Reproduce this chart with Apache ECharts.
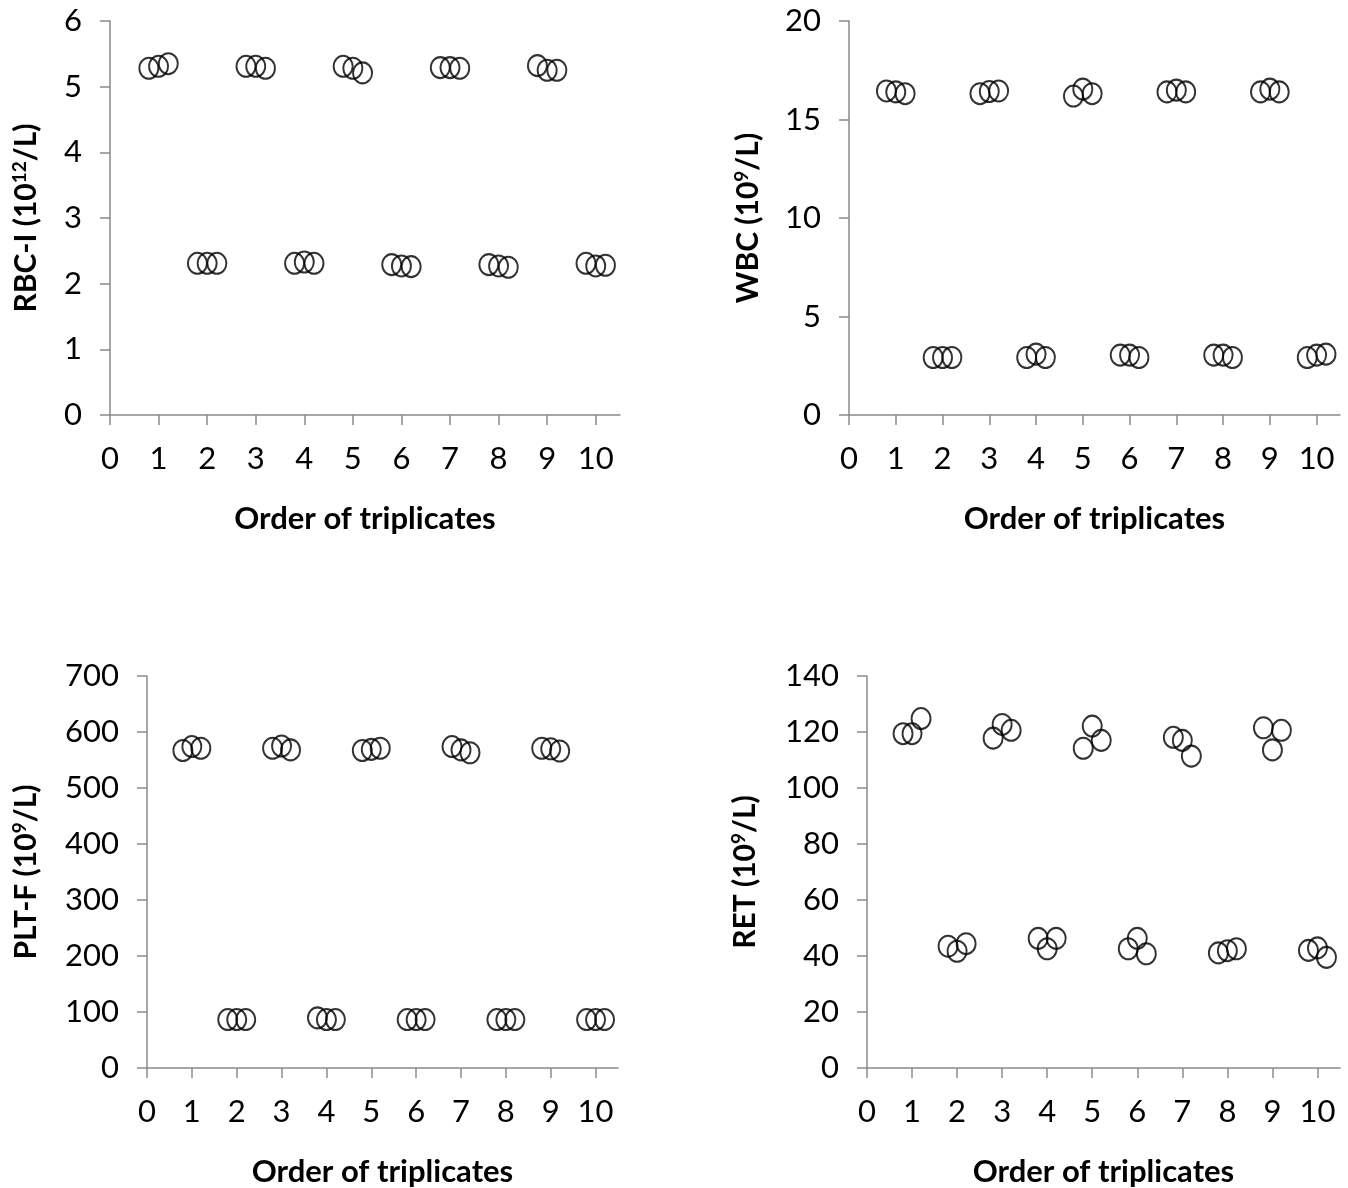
<!DOCTYPE html>
<html>
<head>
<meta charset="utf-8">
<script src="https://cdn.jsdelivr.net/npm/echarts@6/dist/echarts.min.js"></script>
<style>
  html, body { margin: 0; padding: 0; background: #fff; }
  #chart { width: 1348px; height: 1188px; }
</style>
</head>
<body>
<div id="chart"></div>
<script>
// order of triplicates (x categories) and labels
const orders = [1, 2, 3, 4, 5, 6, 7, 8, 9, 10];
const xTickValues = [0, 1, 2, 3, 4, 5, 6, 7, 8, 9, 10];

// each row: the three replicate values for one order
const rbcValues = [
  [5.28, 5.31, 5.35], [2.31, 2.31, 2.31], [5.31, 5.31, 5.28], [2.31, 2.33, 2.31], [5.31, 5.28, 5.21],
  [2.29, 2.27, 2.26], [5.29, 5.29, 5.28], [2.29, 2.27, 2.25], [5.32, 5.25, 5.25], [2.31, 2.27, 2.28]
];
const wbcValues = [
  [16.45, 16.40, 16.31], [2.92, 2.92, 2.92], [16.31, 16.42, 16.45], [2.92, 3.09, 2.92], [16.19, 16.54, 16.31],
  [3.04, 3.04, 2.92], [16.40, 16.49, 16.40], [3.04, 3.04, 2.92], [16.40, 16.54, 16.40], [2.92, 3.04, 3.09]
];
const pltValues = [
  [567, 574, 571], [86.5, 86.5, 86.5], [571, 575, 568], [89.6, 86.5, 86.5], [567, 569, 571],
  [86.5, 86.5, 86.5], [574, 568, 563], [86.5, 86.5, 86.5], [571, 570, 566], [86.5, 86.5, 86.5]
];
const retValues = [
  [119.4, 119.4, 124.8], [43.5, 41.7, 44.4], [117.8, 122.7, 120.6], [46.3, 42.6, 46.3], [114.2, 122.1, 117.0],
  [42.6, 46.3, 40.8], [118.1, 117.0, 111.4], [41.1, 41.9, 42.6], [121.5, 113.6, 120.6], [42.0, 42.9, 39.5]
];

const xName = "Order of triplicates";
const yNames = [
  "RBC-I (10{sup|12}/L)",
  "WBC (10{sup|9}/L)",
  "PLT-F (10{sup|9}/L)",
  "RET (10{sup|9}/L)"
];
const yMax = [6, 20, 700, 140];
const yStep = [1, 5, 100, 20];

const panels = [rbcValues, wbcValues, pltValues, retValues];

const grids = [
  { left: 110, top: 21, width: 510, height: 394 },
  { left: 849, top: 21, width: 491, height: 394 },
  { left: 147, top: 676, width: 471, height: 393 },
  { left: 867, top: 676, width: 473, height: 393 }
];
const yNameGap = [68, 85, 105, 106];

const font = "Lato, 'Open Sans', sans-serif";
const axisColor = "#8a8a8a";

// replicate spread around each order
function buildPoints(values) {
  let pts = [];
  values.forEach((trip, i) => {
    trip.forEach((v, j) => {
      pts.push([orders[i] + (j - 1) * 0.2, v]);
    });
  });
  return pts;
}

let xAxis = [];
let yAxis = [];
let series = [];
panels.forEach((vals, k) => {
  xAxis.push({
    gridIndex: k,
    type: "value",
    min: 0,
    max: 10.5,
    interval: 1,
    name: xName,
    nameLocation: "middle",
    nameGap: 88,
    nameTextStyle: { fontFamily: font, fontWeight: "bold", fontSize: 31, color: "#000" },
    axisLine: { lineStyle: { color: axisColor, width: 1.5 } },
    axisTick: { show: true, length: 10, inside: false, customValues: xTickValues, lineStyle: { color: axisColor, width: 1.5 } },
    axisLabel: { customValues: xTickValues, margin: 28, fontFamily: font, fontSize: 31, color: "#000" },
    splitLine: { show: false }
  });
  yAxis.push({
    gridIndex: k,
    type: "value",
    min: 0,
    max: yMax[k],
    interval: yStep[k],
    name: yNames[k],
    nameLocation: "middle",
    nameRotate: 90,
    nameGap: yNameGap[k],
    nameTextStyle: {
      fontFamily: font, fontWeight: "bold", fontSize: 30, color: "#000", lineHeight: 32,
      rich: { sup: { fontFamily: font, fontWeight: "bold", fontSize: 19, lineHeight: 18, verticalAlign: "top", color: "#000" } }
    },
    axisLine: { show: true, lineStyle: { color: axisColor, width: 1.5 } },
    axisTick: { show: true, length: 10, inside: false, lineStyle: { color: axisColor, width: 1.5 } },
    axisLabel: { margin: 28, fontFamily: font, fontSize: 31, color: "#000" },
    splitLine: { show: false }
  });
  series.push({
    type: "scatter",
    xAxisIndex: k,
    yAxisIndex: k,
    symbol: "circle",
    symbolSize: [19, 21],
    itemStyle: { color: "rgba(0,0,0,0)", borderColor: "#000", borderWidth: 2 },
    data: buildPoints(vals)
  });
});

const myChart = echarts.init(document.getElementById("chart"));
myChart.setOption({
  backgroundColor: "#fff",
  animation: false,
  grid: grids,
  xAxis: xAxis,
  yAxis: yAxis,
  series: series
});
</script>
</body>
</html>
